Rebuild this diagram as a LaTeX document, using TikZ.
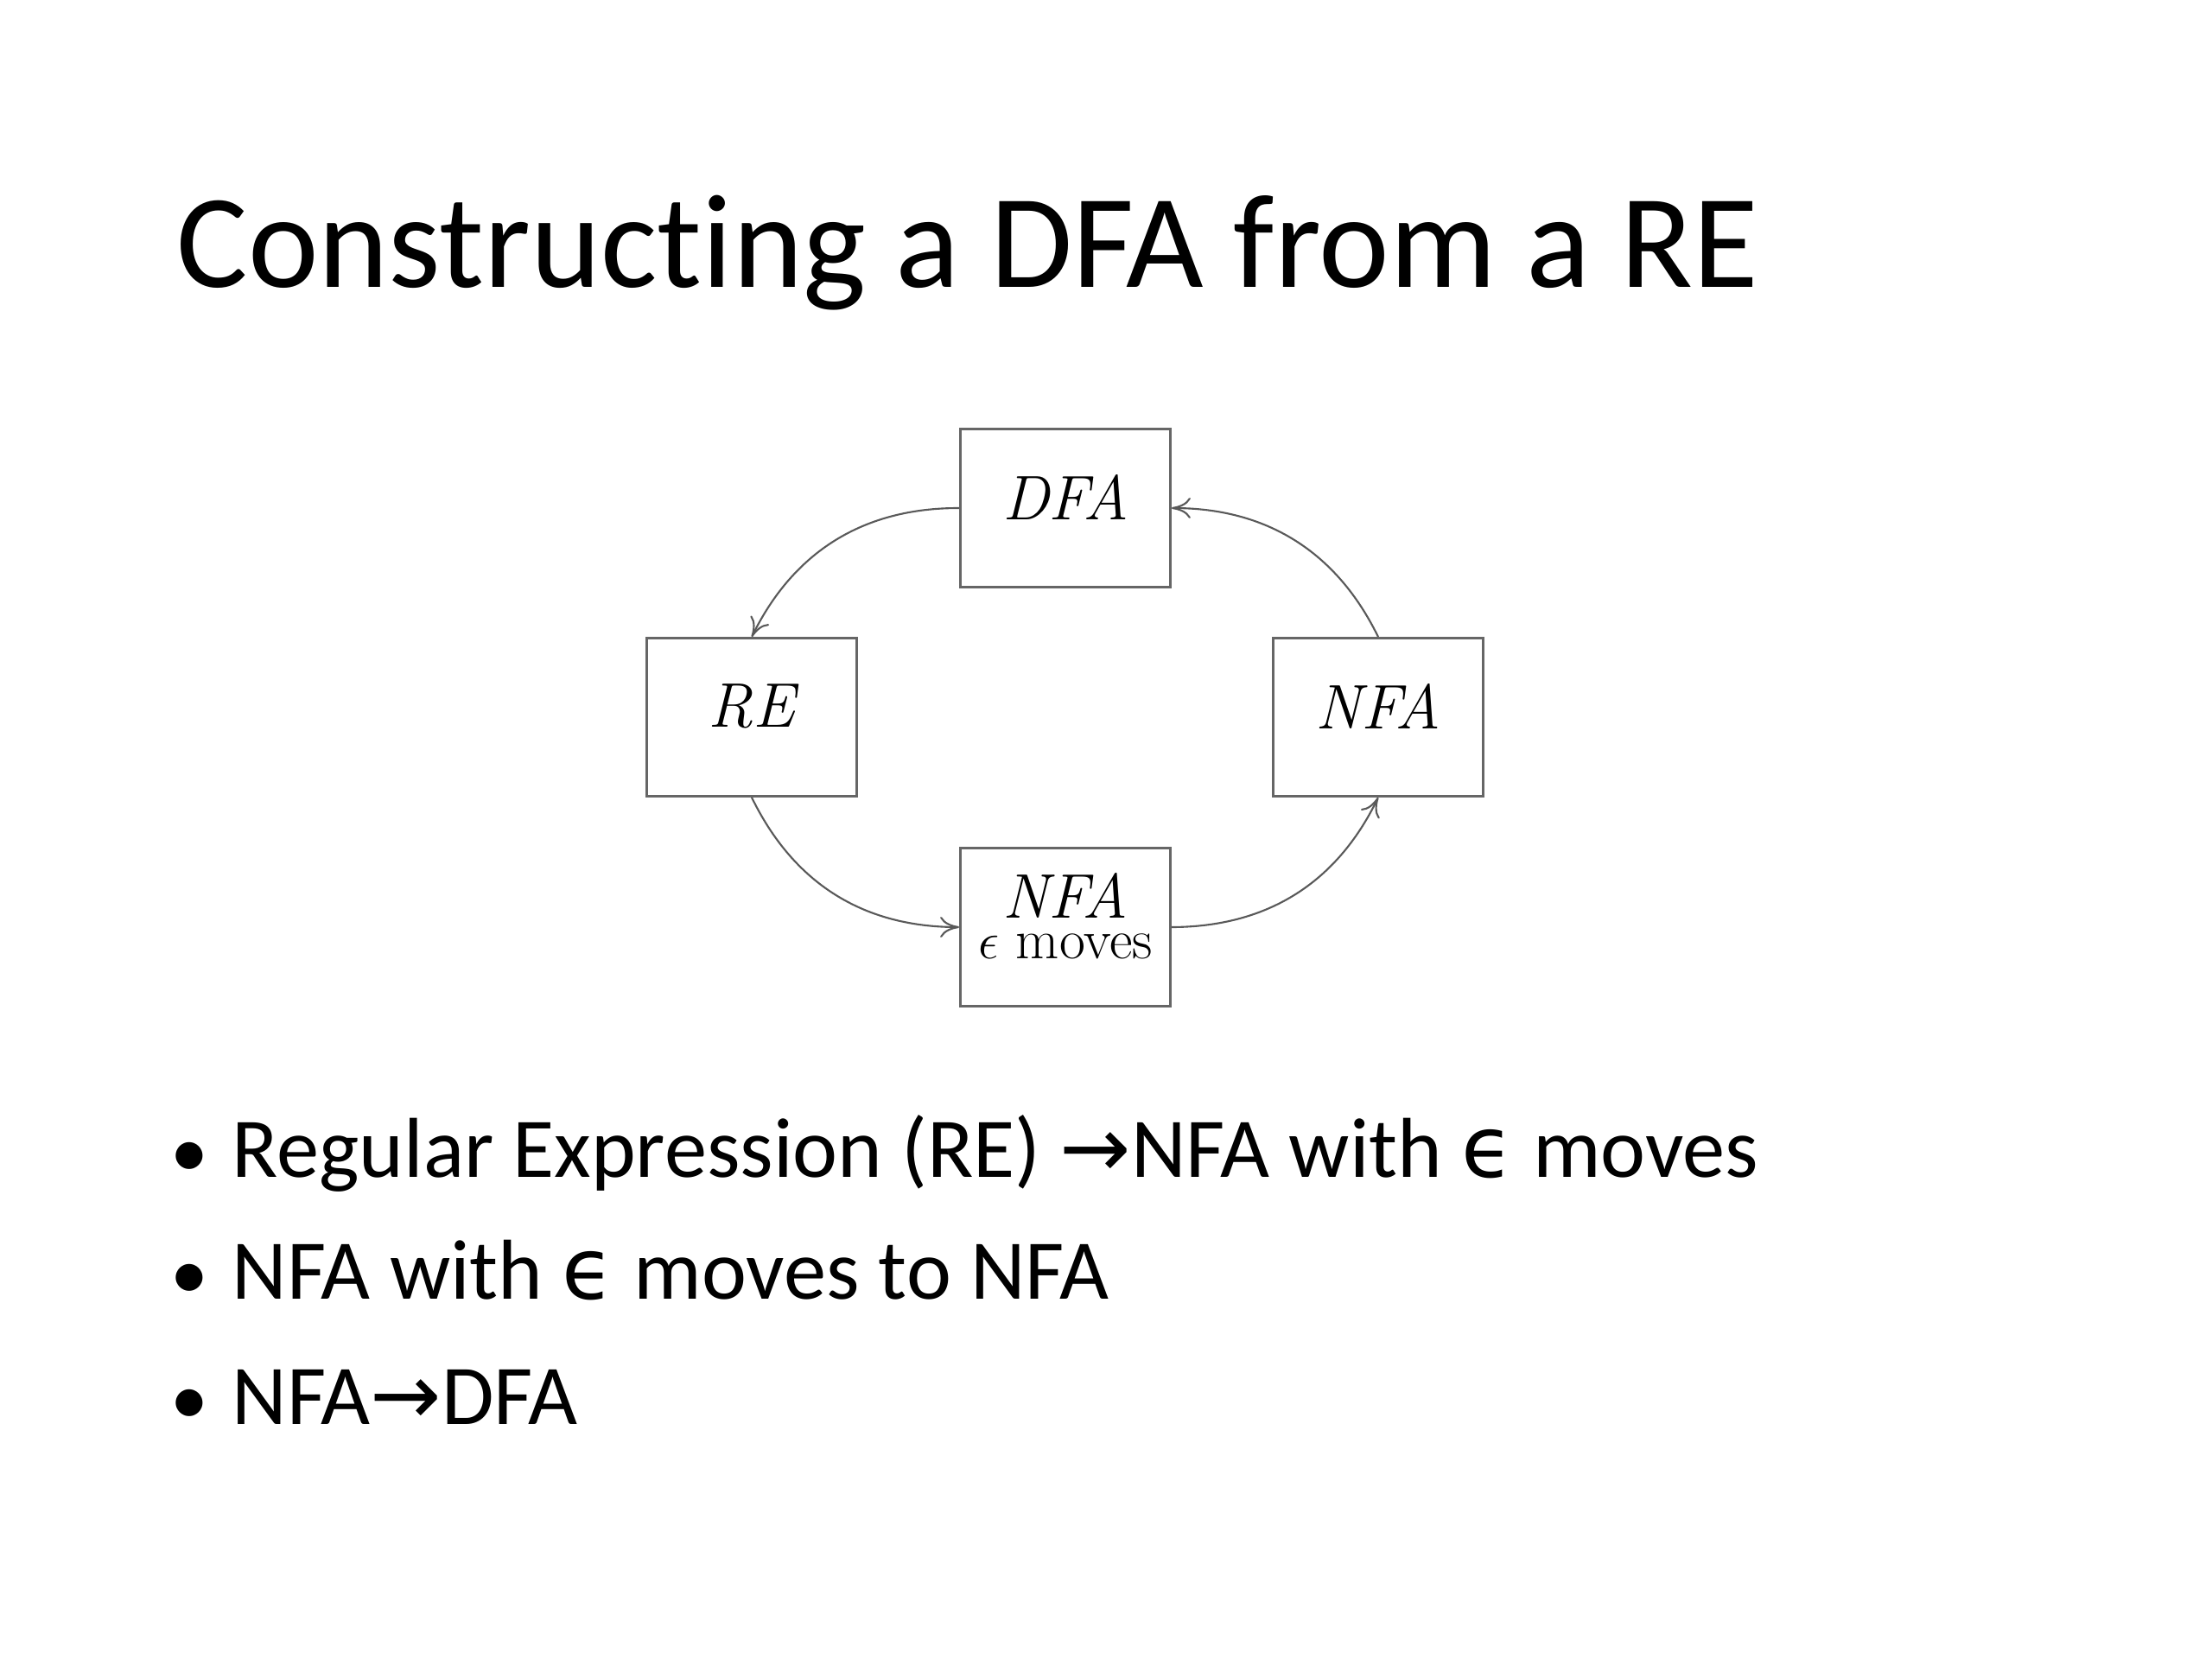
\documentclass[tikz,border=0pt]{standalone}
\usepackage{fontspec}
\usepackage{tikz}
\usetikzlibrary{arrows.meta}
\newfontfamily\slidefont[Ligatures=NoCommon]{Carlito}
\newfontfamily\symfont{DejaVu Sans}

\begin{document}
\begin{tikzpicture}[
  box/.style  ={rectangle, draw=black!60, line width=0.8pt, inner sep=0pt,
                minimum width=24.3mm, minimum height=18.3mm,
                font=\huge\itshape, text depth=2.6mm},
  arr/.style  ={-{To[length=2.2mm,width=2.4mm]}, draw=black!65,
                line width=0.6pt, bend right=32},
  title/.style={anchor=base west, inner sep=0pt,
                font=\slidefont\fontsize{44}{50}\selectfont},
  item/.style ={anchor=base west, inner sep=0pt,
                font=\slidefont\fontsize{28}{34}\selectfont},
  dot/.style  ={anchor=base, inner sep=0pt,
                font=\slidefont\fontsize{25}{30}\selectfont},
]

\path[use as bounding box, fill=white] (0,0) rectangle (25.6,-19.2);

\def\cL{8.70}
\def\cM{12.33}
\def\cR{15.95}
\def\rT{-5.88}
\def\rM{-8.30}
\def\rB{-10.73}

% ---------- title ----------
\node[title] (head) at (2.04,-3.33) {Constructing a DFA from a RE};

% ---------- cycle of boxes ----------
\node[box] (dfa)  at (\cM,\rT) {DFA};
\node[box] (re)   at (\cL,\rM) {RE};
\node[box] (nfa)  at (\cR,\rM) {NFA};
\node[box] (enfa) at (\cM,\rB) {\shortstack{NFA\\[2pt]{\fontsize{18.5}{20}\selectfont\upshape $\epsilon$ moves}}};

\draw[arr] (dfa.west)  to (re.north);
\draw[arr] (re.south)  to (enfa.west);
\draw[arr] (enfa.east) to (nfa.south);
\draw[arr] (nfa.north) to (dfa.east);

% ---------- bullets ----------
\node[dot]  (d1) at (2.19,-13.62) {•};
\node[item] (i1) at (2.68,-13.62) {Regular Expression (RE) {\symfont →}NFA with {\symfont ϵ} moves};
\node[dot]  (d2) at (2.19,-15.03) {•};
\node[item] (i2) at (2.68,-15.03) {NFA with {\symfont ϵ} moves to NFA};
\node[dot]  (d3) at (2.19,-16.48) {•};
\node[item] (i3) at (2.68,-16.48) {NFA{\symfont →}DFA};

\end{tikzpicture}
\end{document}
